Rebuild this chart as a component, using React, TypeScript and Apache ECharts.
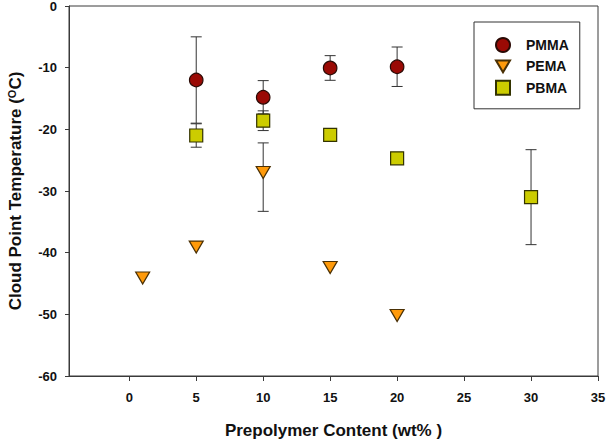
import React, { useEffect, useRef } from "react";
import * as echarts from "echarts";

// ---- data ----
const pmmaX = [5, 10, 15, 20];
const pmmaY = [-12.0, -14.8, -10.05, -9.85];
const pmmaErrUp = [7.0, 2.7, 2.0, 3.2];
const pmmaErrDown = [7.0, 2.7, 2.0, 3.2];

const pemaX = [1, 5, 10, 15, 20];
const pemaY = [-44.1, -39.1, -27.0, -42.4, -50.2];
const pemaErrUp = [0, 0, 4.8, 0, 0];
const pemaErrDown = [0, 0, 6.3, 0, 0];

const pbmaX = [5, 10, 15, 20, 30];
const pbmaY = [-21.0, -18.6, -20.9, -24.7, -31.0];
const pbmaErrUp = [1.9, 1.6, 0, 0, 7.7];
const pbmaErrDown = [1.9, 1.6, 0, 0, 7.7];

const xTicks = [0, 5, 10, 15, 20, 25, 30, 35];
const seriesNames = ["PMMA", "PEMA", "PBMA"];

const FONT = "Liberation Sans, Arial, sans-serif";
const AXIS_COLOR = "#3a3a3a";

function pts(xs: number[], ys: number[]) {
  return xs.map((x, i) => [x, ys[i]]);
}
function errs(xs: number[], ys: number[], up: number[], down: number[]) {
  const out: number[][] = [];
  xs.forEach((x, i) => {
    if (up[i] > 0 || down[i] > 0) out.push([x, ys[i] - down[i], ys[i] + up[i]]);
  });
  return out;
}

const errRender = (params: any, api: any) => {
  const x = api.value(0);
  const lo = api.value(1);
  const hi = api.value(2);
  const p1 = api.coord([x, hi]);
  const p2 = api.coord([x, lo]);
  const w = 5.5;
  const style = { stroke: "#333333", lineWidth: 1 };
  return {
    type: "group",
    children: [
      { type: "line", shape: { x1: p1[0], y1: p1[1], x2: p2[0], y2: p2[1] }, style },
      { type: "line", shape: { x1: p1[0] - w, y1: p1[1], x2: p1[0] + w, y2: p1[1] }, style },
      { type: "line", shape: { x1: p2[0] - w, y1: p2[1], x2: p2[0] + w, y2: p2[1] }, style },
    ],
  };
};

export default function App() {
  const ref = useRef<HTMLDivElement>(null);
  useEffect(() => {
    document.body.style.margin = "0";
    if (!ref.current) return;
    const chart = echarts.init(ref.current, undefined, { renderer: "svg" });
    const option: any = {
      animation: false,
      backgroundColor: "#ffffff",
      grid: {
        left: 69,
        right: 13,
        top: 6,
        bottom: 64,
        containLabel: false,
        outerBoundsMode: "none",
        show: true,
        borderColor: AXIS_COLOR,
        borderWidth: 1,
      },
      legend: {
        data: seriesNames,
        orient: "vertical",
        left: 474,
        top: 22,
        itemWidth: 14,
        itemHeight: 14,
        itemGap: 6.4,
        padding: [15, 11, 13, 21],
        borderColor: "#333333",
        borderWidth: 1,
        backgroundColor: "#ffffff",
        textStyle: {
          fontFamily: FONT,
          fontWeight: "bold",
          fontSize: 14,
          color: "#111111",
          padding: [0, 0, 0, 11],
        },
      },
      xAxis: {
        type: "value",
        min: -4.5,
        max: 35,
        name: "Prepolymer Content (wt% )",
        nameLocation: "middle",
        nameGap: 46,
        nameTextStyle: { fontFamily: FONT, fontWeight: "bold", fontSize: 17, color: "#111111" },
        axisLine: { show: true, onZero: false, lineStyle: { color: AXIS_COLOR, width: 1 } },
        axisTick: { show: true, customValues: xTicks, length: 5, lineStyle: { color: AXIS_COLOR } },
        axisLabel: {
          customValues: xTicks,
          margin: 15,
          fontFamily: FONT,
          fontWeight: "bold",
          fontSize: 13,
          color: "#111111",
        },
        splitLine: { show: false },
      },
      yAxis: {
        type: "value",
        min: -60,
        max: 0,
        interval: 10,
        name: "{t|Cloud Point Temperature (}{s|O}{t|C)}",
        nameLocation: "middle",
        nameGap: 44,
        nameRotate: 90,
        nameTextStyle: {
          rich: {
            t: { fontFamily: FONT, fontWeight: "bold", fontSize: 17, color: "#111111" },
            s: {
              fontFamily: FONT,
              fontWeight: "bold",
              fontSize: 11,
              color: "#111111",
              verticalAlign: "bottom",
              padding: [0, 0, 8, 0],
            },
          },
        },
        axisLine: { show: true, onZero: false, lineStyle: { color: AXIS_COLOR, width: 1 } },
        axisTick: { show: true, length: 4, lineStyle: { color: AXIS_COLOR } },
        axisLabel: {
          margin: 12,
          fontFamily: FONT,
          fontWeight: "bold",
          fontSize: 13,
          lineHeight: 13,
          color: "#111111",
        },
        splitLine: { show: false },
      },
      series: [
        {
          type: "custom",
          name: "errPMMA",
          renderItem: errRender,
          encode: { x: 0, y: [1, 2] },
          data: errs(pmmaX, pmmaY, pmmaErrUp, pmmaErrDown),
          z: 1,
          silent: true,
        },
        {
          type: "custom",
          name: "errPEMA",
          renderItem: errRender,
          encode: { x: 0, y: [1, 2] },
          data: errs(pemaX, pemaY, pemaErrUp, pemaErrDown),
          z: 1,
          silent: true,
        },
        {
          type: "custom",
          name: "errPBMA",
          renderItem: errRender,
          encode: { x: 0, y: [1, 2] },
          data: errs(pbmaX, pbmaY, pbmaErrUp, pbmaErrDown),
          z: 1,
          silent: true,
        },
        {
          type: "scatter",
          name: "PMMA",
          symbol: "circle",
          symbolSize: 13.5,
          itemStyle: { color: "#9a0a05", borderColor: "#2a0a05", borderWidth: 1.2, opacity: 1 },
          data: pts(pmmaX, pmmaY),
          z: 3,
        },
        {
          type: "scatter",
          name: "PEMA",
          symbol: "path://M0,0 L20,0 L10,17 Z",
          symbolSize: [14, 12],
          itemStyle: { color: "#ff9a0a", borderColor: "#4a3005", borderWidth: 1.2, opacity: 1 },
          data: pts(pemaX, pemaY),
          z: 3,
        },
        {
          type: "scatter",
          name: "PBMA",
          symbol: "rect",
          symbolSize: 13,
          itemStyle: { color: "#cccc00", borderColor: "#333300", borderWidth: 1.2, opacity: 1 },
          data: pts(pbmaX, pbmaY),
          z: 3,
        },
      ],
    };
    chart.setOption(option);
    return () => chart.dispose();
  }, []);
  return <div ref={ref} style={{ width: 611, height: 440 }} />;
}
